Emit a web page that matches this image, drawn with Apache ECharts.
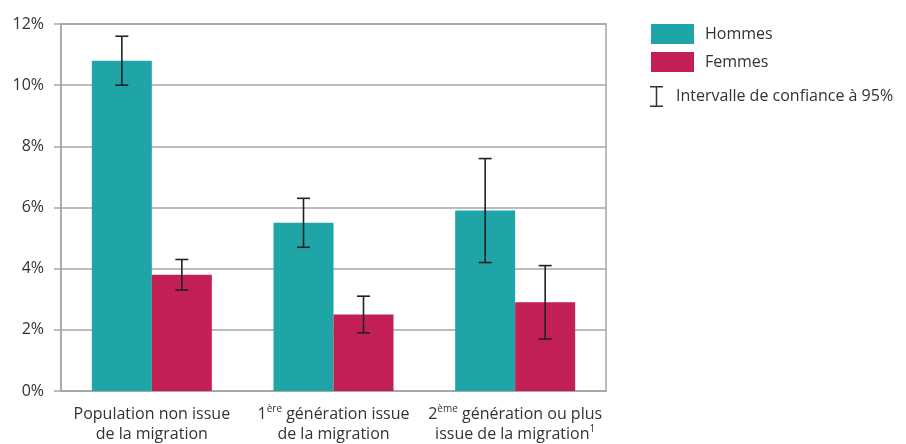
<!DOCTYPE html>
<html>
<head>
<meta charset="utf-8">
<script src="https://cdn.jsdelivr.net/npm/echarts@6/dist/echarts.min.js"></script>
<style>html,body{margin:0;padding:0;background:#fff}#c{width:906px;height:444px}</style>
</head>
<body>
<div id="c"></div>
<script>
const categories = [
  'Population non issue\nde la migration',
  '1{sup|ère} génération issue\nde la migration',
  '2{sup|ème} génération ou plus\nissue de la migration{sup|1}'
];
const hommes = [10.8, 5.5, 5.9];
const femmes = [3.8, 2.5, 2.9];
const hommesLow = [10.0, 4.7, 4.2];
const hommesHigh = [11.6, 6.3, 7.6];
const femmesLow = [3.3, 1.9, 1.7];
const femmesHigh = [4.3, 3.1, 4.1];
const yTicks = [0, 2, 4, 6, 8, 10, 12];

const FONT = '"Open Sans", "Noto Sans", sans-serif';
const TEXT = '#333';
const GRID = '#a6a6a6';
const BAR_W = 60;
const TEAL = '#1fa5a8';
const CRIMSON = '#c21f54';
const ERR_NAME = 'Intervalle de confiance à 95%';

const errData = [];
for (let i = 0; i < categories.length; i++) {
  errData.push([i, hommesLow[i], hommesHigh[i], -1]);
  errData.push([i, femmesLow[i], femmesHigh[i], 1]);
}

function renderErr(params, api) {
  const i = api.value(0);
  const side = api.value(3);
  const lo = api.coord([i, api.value(1)]);
  const hi = api.coord([i, api.value(2)]);
  const x = lo[0] + side * BAR_W / 2;
  const cap = 6.5;
  const style = { stroke: '#222', lineWidth: 1.6 };
  return {
    type: 'group',
    children: [
      { type: 'line', shape: { x1: x, y1: lo[1], x2: x, y2: hi[1] }, style },
      { type: 'line', shape: { x1: x - cap, y1: lo[1], x2: x + cap, y2: lo[1] }, style },
      { type: 'line', shape: { x1: x - cap, y1: hi[1], x2: x + cap, y2: hi[1] }, style }
    ]
  };
}

const chart = echarts.init(document.getElementById('c'), null, { renderer: 'canvas' });
chart.setOption({
  animation: false,
  textStyle: { fontFamily: FONT, color: TEXT },
  grid: {
    left: 61, top: 24, width: 545, height: 368,
    show: true, borderColor: GRID, borderWidth: 1.5, backgroundColor: 'transparent'
  },
  legend: [
    {
      data: ['Hommes', 'Femmes'],
      orient: 'vertical', left: 651, top: 24, padding: 0,
      itemWidth: 43, itemHeight: 20, itemGap: 8,
      icon: 'rect',
      textStyle: { fontSize: 16, color: TEXT, fontFamily: FONT, padding: [0, 0, 0, 6] }
    },
    {
      data: [{
        name: ERR_NAME,
        icon: 'path://M0,0H26V3H14.5V39H26V42H0V39H11.5V3H0Z',
        itemStyle: { color: '#333' }
      }],
      orient: 'vertical', left: 650, top: 86, padding: 0,
      itemWidth: 13, itemHeight: 21,
      textStyle: { fontSize: 16, color: TEXT, fontFamily: FONT, padding: [0, 0, 0, 8] }
    }
  ],
  xAxis: {
    type: 'category',
    data: categories,
    axisLine: { show: true, lineStyle: { color: GRID, width: 1.5 } },
    axisTick: { show: false },
    axisLabel: {
      interval: 0, margin: 13, fontSize: 16, color: TEXT, fontFamily: FONT,
      lineHeight: 20,
      rich: {
        sup: { fontSize: 10, lineHeight: 12, verticalAlign: 'top', color: TEXT, fontFamily: FONT }
      }
    }
  },
  yAxis: {
    type: 'value',
    min: yTicks[0], max: yTicks[yTicks.length - 1], interval: 2,
    axisLine: { show: true, lineStyle: { color: GRID, width: 1.5 } },
    axisTick: { show: true, inside: false, length: 7, lineStyle: { color: GRID, width: 1.5 } },
    splitLine: { show: true, lineStyle: { color: GRID, width: 1.5 } },
    axisLabel: { formatter: '{value}%', margin: 17, fontSize: 16, color: TEXT, fontFamily: FONT }
  },
  series: [
    { name: 'Hommes', type: 'bar', data: hommes, barWidth: BAR_W, barGap: '0%', itemStyle: { color: TEAL } },
    { name: 'Femmes', type: 'bar', data: femmes, barWidth: BAR_W, barGap: '0%', itemStyle: { color: CRIMSON } },
    {
      name: ERR_NAME, type: 'custom', data: errData, renderItem: renderErr,
      itemStyle: { color: '#333' }, z: 5,
      encode: { x: 0, y: [1, 2] }
    }
  ]
});
</script>
</body>
</html>
